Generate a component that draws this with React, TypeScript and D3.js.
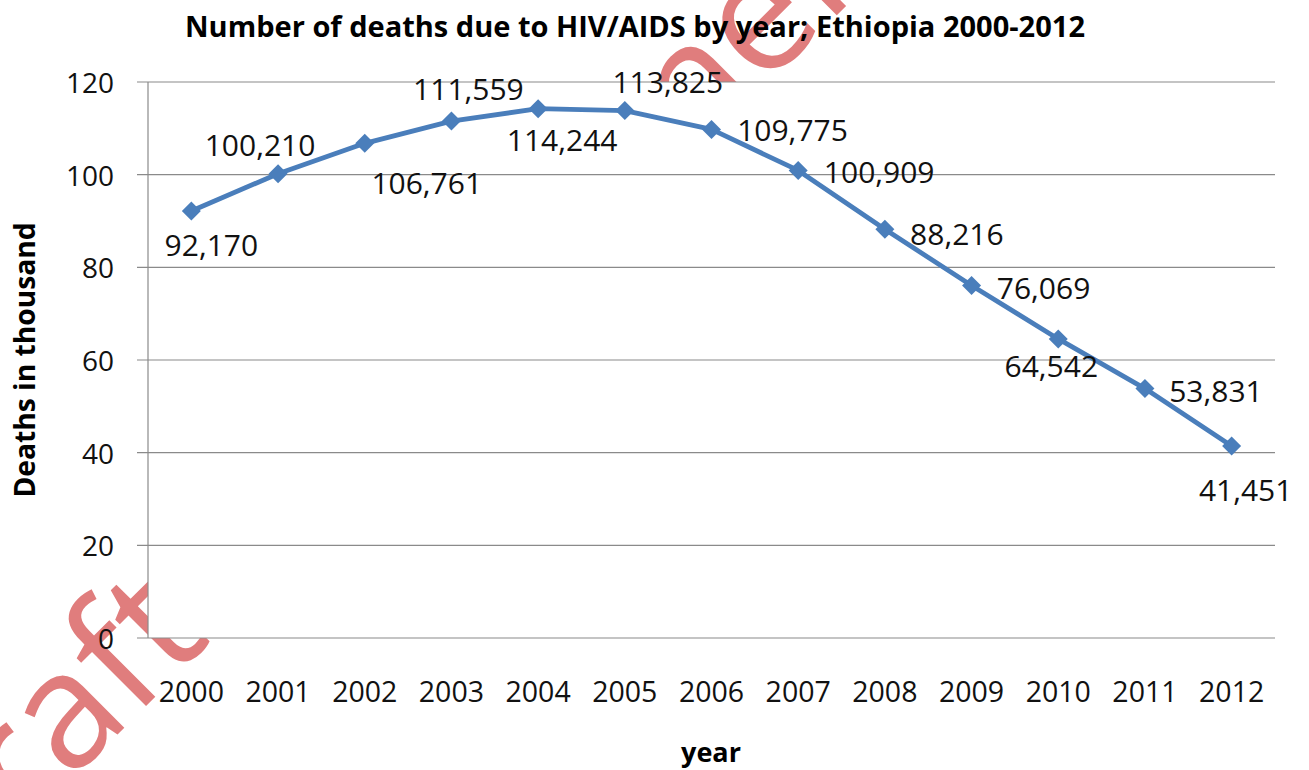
import React from "react";
import * as d3 from "d3";

// Annual HIV/AIDS deaths in Ethiopia, in thousands
const years = ["2000", "2001", "2002", "2003", "2004", "2005", "2006", "2007", "2008", "2009", "2010", "2011", "2012"];
const deaths = [92.17, 100.21, 106.761, 111.559, 114.244, 113.825, 109.775, 100.909, 88.216, 76.069, 64.542, 53.831, 41.451];
const yTicks = [0, 20, 40, 60, 80, 100, 120];

// Hand-placed data label offsets from each marker (px)
const labelDx = [20, -18, 62, 17, 24, 43, 81, 81, 72, 72, -7, 71, 14];
const labelDy = [34, -29, 39, -33, 31, -29, 0, 1, 4, 2, 27, 2, 44];

const W = 1309;
const H = 770;
const plot = { left: 148, right: 1275, top: 82, bottom: 638 };
const FONT = "'Open Sans', 'Noto Sans', sans-serif";
const LINE_BLUE = "#4a7ebb";
const GRID = "#8a8a8a";

export default function App() {
  const x = d3.scaleBand<string>().domain(years).range([plot.left, plot.right]);
  const y = d3.scaleLinear().domain([0, 120]).range([plot.bottom, plot.top]);
  const cx = (yr: string) => (x(yr) as number) + x.bandwidth() / 2;
  const fmt = d3.format(",");

  const pts = years.map((yr, i) => [cx(yr), y(deaths[i])] as [number, number]);
  const linePath = d3.line()(pts) as string;
  const diamond = "M0,-9.5L9.5,0L0,9.5L-9.5,0Z";

  return (
    <svg
      width={W}
      height={H}
      style={{ position: "absolute", left: 0, top: 0, background: "#fff" }}
      fontFamily={FONT}
    >
      <rect x={0} y={0} width={W} height={H} fill="#fff" />

      {/* watermark, sitting behind the plot area */}
      <text
        transform="translate(-60,912) rotate(-45)"
        fontSize={162}
        fill="#e07d7d"
        fontFamily={FONT}
      >
        Draft for comments
      </text>

      <rect
        x={plot.left}
        y={plot.top}
        width={plot.right - plot.left}
        height={plot.bottom - plot.top}
        fill="#fff"
      />

      {/* gridlines and y ticks */}
      {yTicks.map((t) => (
        <g key={t}>
          <line x1={137} x2={plot.right} y1={y(t)} y2={y(t)} stroke={GRID} strokeWidth={1.2} />
          <text
            x={114}
            y={y(t)}
            textAnchor="end"
            dominantBaseline="central"
            fontSize={28}
            fill="#111"
          >
            {t}
          </text>
        </g>
      ))}
      <line x1={plot.left} x2={plot.left} y1={plot.top} y2={plot.bottom} stroke={GRID} strokeWidth={1.2} />

      {/* x labels */}
      {years.map((yr) => (
        <text key={yr} x={cx(yr)} y={702} textAnchor="middle" fontSize={28.5} fill="#111">
          {yr}
        </text>
      ))}

      {/* series */}
      <path d={linePath} fill="none" stroke={LINE_BLUE} strokeWidth={4.8} strokeLinejoin="round" />
      {pts.map(([px, py], i) => (
        <path key={years[i]} d={diamond} transform={`translate(${px},${py})`} fill={LINE_BLUE} />
      ))}

      {/* data labels */}
      {pts.map(([px, py], i) => (
        <text
          key={"l" + years[i]}
          x={px + labelDx[i]}
          y={py + labelDy[i]}
          textAnchor="middle"
          dominantBaseline="central"
          fontSize={30}
          fill="#111"
        >
          {fmt(Math.round(deaths[i] * 1000))}
        </text>
      ))}

      {/* titles */}
      <text
        x={635}
        y={37}
        textAnchor="middle"
        fontSize={28}
        fontWeight="bold"
        textLength={900}
        lengthAdjust="spacingAndGlyphs"
        fill="#000"
      >
        Number of deaths due to HIV/AIDS by year; Ethiopia 2000-2012
      </text>
      <text
        transform="translate(35,360) rotate(-90)"
        textAnchor="middle"
        fontSize={28}
        fontWeight="bold"
        textLength={275}
        lengthAdjust="spacingAndGlyphs"
        fill="#000"
      >
        Deaths in thousand
      </text>
      <text x={711} y={762} textAnchor="middle" fontSize={27} fontWeight="bold" fill="#000">
        year
      </text>
    </svg>
  );
}
